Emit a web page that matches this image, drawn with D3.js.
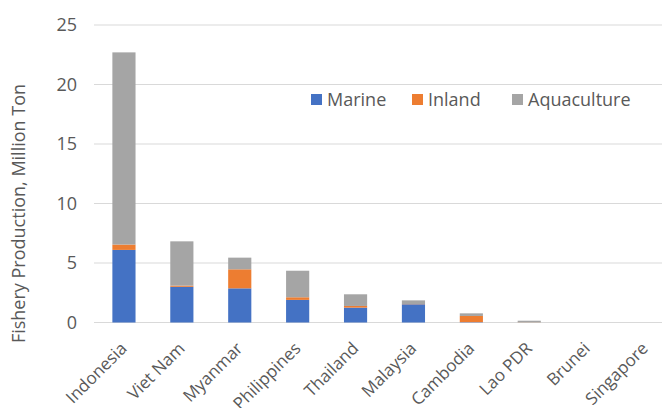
<!DOCTYPE html>
<html>
<head>
<meta charset="utf-8">
<script src="https://cdn.jsdelivr.net/npm/d3@7"></script>
<style>
  body { margin: 0; background: #fff; }
  text { font-family: "Open Sans", sans-serif; fill: #595959; }
</style>
</head>
<body>
<div id="chart"></div>
<script>
// values, million ton
const countries = ["Indonesia", "Viet Nam", "Myanmar", "Philippines", "Thailand",
                   "Malaysia", "Cambodia", "Lao PDR", "Brunei", "Singapore"];
const marine      = [6.10, 3.00, 2.87, 1.90, 1.25, 1.53, 0.03, 0.00, 0.00, 0.00];
const inland      = [0.45, 0.10, 1.60, 0.22, 0.14, 0.02, 0.52, 0.01, 0.00, 0.00];
const aquaculture = [16.15, 3.72, 0.98, 2.23, 0.98, 0.31, 0.22, 0.14, 0.00, 0.00];
const yTicks = [0, 5, 10, 15, 20, 25];
const seriesNames = ["Marine", "Inland", "Aquaculture"];
const colors = ["#4472C4", "#ED7D31", "#A5A5A5"];

function drawChart() {
    const W = 662, H = 408;
    // the plot runs a little past the right edge, as in the original crop
    const margin = { top: 25, right: -12, bottom: 85.5, left: 95 };

    const svg = d3.select("#chart").append("svg")
        .attr("width", W)
        .attr("height", H);

    const g = svg.append("g")
        .attr("transform", `translate(${margin.left},${margin.top})`);

    const width = W - margin.left - margin.right;
    const height = H - margin.top - margin.bottom;

    const x = d3.scaleBand().domain(countries).range([0, width]).paddingInner(0.6).paddingOuter(0.3);
    const y = d3.scaleLinear().domain([0, 25]).range([height, 0]);

    // gridlines
    g.selectAll(".grid")
        .data(yTicks)
        .enter().append("line")
        .attr("x1", -1).attr("x2", width)
        .attr("y1", d => y(d)).attr("y2", d => y(d))
        .attr("stroke", "#D9D9D9")
        .attr("stroke-width", 1);

    // y tick labels
    g.selectAll(".ytick")
        .data(yTicks)
        .enter().append("text")
        .attr("x", -18)
        .attr("y", d => y(d))
        .attr("dy", "0.35em")
        .attr("text-anchor", "end")
        .style("font-size", "18px")
        .text(d => d);

    // stacked bars
    const rows = countries.map((c, i) => ({ country: c, Marine: marine[i], Inland: inland[i], Aquaculture: aquaculture[i] }));
    const stacked = d3.stack().keys(seriesNames)(rows);

    g.selectAll(".series")
        .data(stacked)
        .enter().append("g")
        .attr("fill", (d, i) => colors[i])
        .selectAll("rect")
        .data(d => d)
        .enter().append("rect")
        .attr("x", d => x(d.data.country))
        .attr("width", x.bandwidth())
        .attr("y", d => y(d[1]))
        .attr("height", d => y(d[0]) - y(d[1]));

    // category labels, rotated
    g.selectAll(".xlabel")
        .data(countries)
        .enter().append("text")
        .attr("text-anchor", "end")
        .attr("transform", d => `translate(${x(d) + x.bandwidth() / 2 + 4},${height + 27}) rotate(-45)`)
        .style("font-size", "17px")
        .text(d => d);

    // y axis title
    svg.append("text")
        .attr("transform", `translate(25,213.5) rotate(-90)`)
        .attr("text-anchor", "middle")
        .style("font-size", "18px")
        .text("Fishery Production, Million Ton");

    // legend
    const legendX = [311, 412, 512];
    const legend = svg.append("g");
    seriesNames.forEach((name, i) => {
        legend.append("rect")
            .attr("x", legendX[i]).attr("y", 94)
            .attr("width", 11).attr("height", 11)
            .attr("fill", colors[i]);
        legend.append("text")
            .attr("x", legendX[i] + 16).attr("y", 99.5)
            .attr("dy", "0.35em")
            .style("font-size", "18px")
            .text(name);
    });
}

drawChart();
</script>
</body>
</html>
